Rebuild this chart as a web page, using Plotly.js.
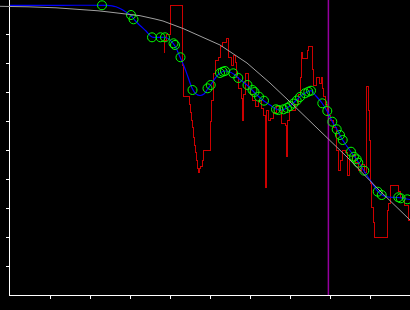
<!DOCTYPE html>
<html>
<head>
<meta charset="utf-8">
<script src="https://cdn.plot.ly/plotly-3.0.1.min.js"></script>
<style>
html,body{margin:0;padding:0;background:#000;}
#chart{width:410px;height:310px;}
</style>
</head>
<body>
<div id="chart"></div>
<script>
// Reference (smooth) curve
const refX = [-0.25,0,0.45,1.15,1.6,1.925,2.2,2.425,2.625,2.8,3.05,3.25,3.625,3.825,4.325,4.75,5.25,5.925,6.5,6.95,7.575,8.425,9.25,10];
const refY = [9.955,9.955,9.938,9.903,9.869,9.834,9.8,9.766,9.731,9.697,9.662,9.631,9.517,9.448,9.19,8.931,8.621,8.0,7.31,6.724,5.897,4.759,3.586,2.586];

// Raw (noisy) step series
const rawX = [3.85,3.85,3.9,4.0,4.3,4.325,4.475,4.5,4.525,4.55,4.575,4.6,4.625,4.65,4.675,4.7,4.725,4.75,4.8175,4.8325,5.0075,5.025,5.075,5.125,5.2,5.25,5.3175,5.4175,5.4575,5.525,5.575,5.625,5.6675,5.7075,5.7925,5.8175,5.8375,5.875,5.9575,6.0,6.05,6.125,6.2,6.275,6.325,6.375,6.4,6.45,6.5,6.575,6.65,6.75,6.7925,6.875,6.9,6.9175,6.9375,6.975,7.125,7.2,7.2675,7.2875,7.3,7.425,7.4575,7.5575,7.5825,7.6675,7.725,7.7925,7.8175,7.8325,7.875,7.925,8.0,8.075,8.15,8.2,8.25,8.3,8.375,8.425,8.475,8.55,8.625,8.7,8.775,8.85,8.9175,8.95,8.975,9.0,9.0425,9.0825,9.1075,9.4425,9.4675,9.5,9.7075,9.75,9.85,9.9575,10.0];
const rawY = [8.345,8.793,8.966,10.0,7.931,6.828,6.552,6.310,6.034,5.759,5.448,5.172,4.897,4.655,4.379,4.241,4.379,4.448,4.655,5.0,5.966,6.724,7.655,8.103,8.207,8.552,8.724,8.862,8.207,7.931,8.276,8.034,7.483,7.138,6.793,6.034,6.897,7.621,7.138,6.897,6.724,6.517,6.724,6.448,6.207,3.724,6.379,6.034,6.103,6.310,6.483,6.379,5.931,5.862,5.345,4.793,6.034,6.379,6.552,6.897,7.517,8.379,8.172,8.448,8.552,7.759,7.241,7.483,7.310,7.483,7.138,6.828,6.552,6.207,6.034,5.759,5.0,4.310,4.655,5.0,4.931,4.138,4.655,4.828,4.586,4.310,4.483,4.241,7.207,6.379,5.345,3.862,3.034,2.517,2.0,2.931,3.172,3.793,3.552,3.379,3.103,2.586,2.586];

// Smoothed series
const smoothX = [0,1.25,2.425,2.55,2.65,2.775,2.9,3.025,3.125,3.25,3.4,3.55,3.75,3.9,4.0,4.125,4.25,4.35,4.45,4.55,4.65,4.75,4.85,4.95,5.05,5.15,5.25,5.375,5.5,5.625,5.75,5.925,6.05,6.2,6.35,6.5,6.65,6.75,6.85,7.0,7.15,7.3,7.45,7.525,7.65,7.8,7.925,8.05,8.175,8.3,8.5,8.675,8.85,9.0,9.2,9.3,9.45,9.7,9.85,10.0];
const smoothY = [9.99,9.99,9.986,9.972,9.938,9.862,9.759,9.638,9.466,9.293,9.103,8.897,8.886,8.879,8.793,8.586,8.207,7.897,7.517,7.138,6.931,6.879,6.931,7.121,7.31,7.517,7.655,7.724,7.69,7.586,7.431,7.241,7.069,6.862,6.69,6.552,6.414,6.379,6.403,6.517,6.707,6.897,7.007,7.045,6.862,6.621,6.345,6.0,5.707,5.379,4.983,4.655,4.276,3.966,3.569,3.448,3.379,3.362,3.328,3.293];

// Sample points
const sampleX = [2.3,3.025,3.0875,3.55,3.7625,3.875,4.0875,4.125,4.2625,4.5625,4.9375,5.0175,5.25,5.3175,5.375,5.5825,5.7075,5.9375,6.0625,6.1125,6.225,6.35,6.65,6.7125,6.8375,6.925,7.0,7.0875,7.1675,7.25,7.375,7.4575,7.525,7.8075,7.9325,8.0575,8.1675,8.25,8.3175,8.525,8.6,8.6675,8.7075,8.8575,9.1925,9.2925,9.7075,9.7675,9.9325];
const sampleY = [9.99,9.655,9.507,8.886,8.886,8.886,8.679,8.621,8.197,7.069,7.128,7.241,7.655,7.7,7.724,7.645,7.483,7.241,7.069,7.0,6.838,6.7,6.403,6.379,6.403,6.448,6.517,6.603,6.707,6.828,6.955,7.01,7.045,6.61,6.345,5.976,5.714,5.517,5.345,4.941,4.769,4.679,4.562,4.286,3.562,3.448,3.369,3.334,3.3];

// Cursor position
const cursorX = 7.96;

// Tick positions
const xTicks = [1,2,3,4,5,6,7,8,9,10];
const yTicks = [1,2,3,4,5,6,7,8,9];

const RED = '#cc0000';

const traces = [
  {x: refX, y: refY, xaxis: 'x2', yaxis: 'y', mode: 'lines', line: {color: '#a0a0a0', width: 1}, hoverinfo: 'skip'},
  {x: rawX, y: rawY, mode: 'lines', line: {color: RED, width: 1, shape: 'hv'}, hoverinfo: 'skip'},
  {x: smoothX, y: smoothY, mode: 'lines', line: {color: '#0000ff', width: 1.2, shape: 'spline'}, hoverinfo: 'skip'},
  {x: sampleX, y: sampleY, mode: 'markers', marker: {symbol: 'circle-open', size: 9, color: '#00ff00', line: {width: 1, color: '#00ff00'}}, hoverinfo: 'skip'}
];

const axisCommon = {
  showline: true, linecolor: '#ffffff', linewidth: 1,
  ticks: 'outside', ticklen: 3, tickwidth: 1, tickcolor: '#ffffff',
  showticklabels: false, showgrid: false, zeroline: false, fixedrange: true
};

const layout = {
  width: 410, height: 310,
  margin: {l: 0, r: 0, t: 0, b: 15, pad: 0},
  paper_bgcolor: '#000000', plot_bgcolor: 'rgba(0,0,0,0)',
  showlegend: false,
  xaxis: Object.assign({}, axisCommon, {domain: [10/410, 1], range: [0, 10], tickmode: 'array', tickvals: xTicks, anchor: 'y'}),
  xaxis2: {domain: [0, 1], range: [-0.25, 10], visible: false, anchor: 'y', fixedrange: true},
  yaxis: Object.assign({}, axisCommon, {range: [0, 295/29], anchor: 'x', tickmode: 'array', tickvals: yTicks}),
  shapes: [
    {type: 'line', xref: 'x', yref: 'paper', x0: cursorX, x1: cursorX, y0: 0, y1: 1, layer: 'below', line: {color: 'rgb(150,0,160)', width: 1.5}}
  ]
};

Plotly.newPlot('chart', traces, layout, {staticPlot: true, displayModeBar: false}).then(function () {
  document.querySelectorAll('#chart path.js-line').forEach(function (p) {
    const s = (p.style.stroke || '').replace(/\s/g, '');
    if (s === 'rgb(204,0,0)') p.style.shapeRendering = 'crispEdges';
  });
});
</script>
</body>
</html>
